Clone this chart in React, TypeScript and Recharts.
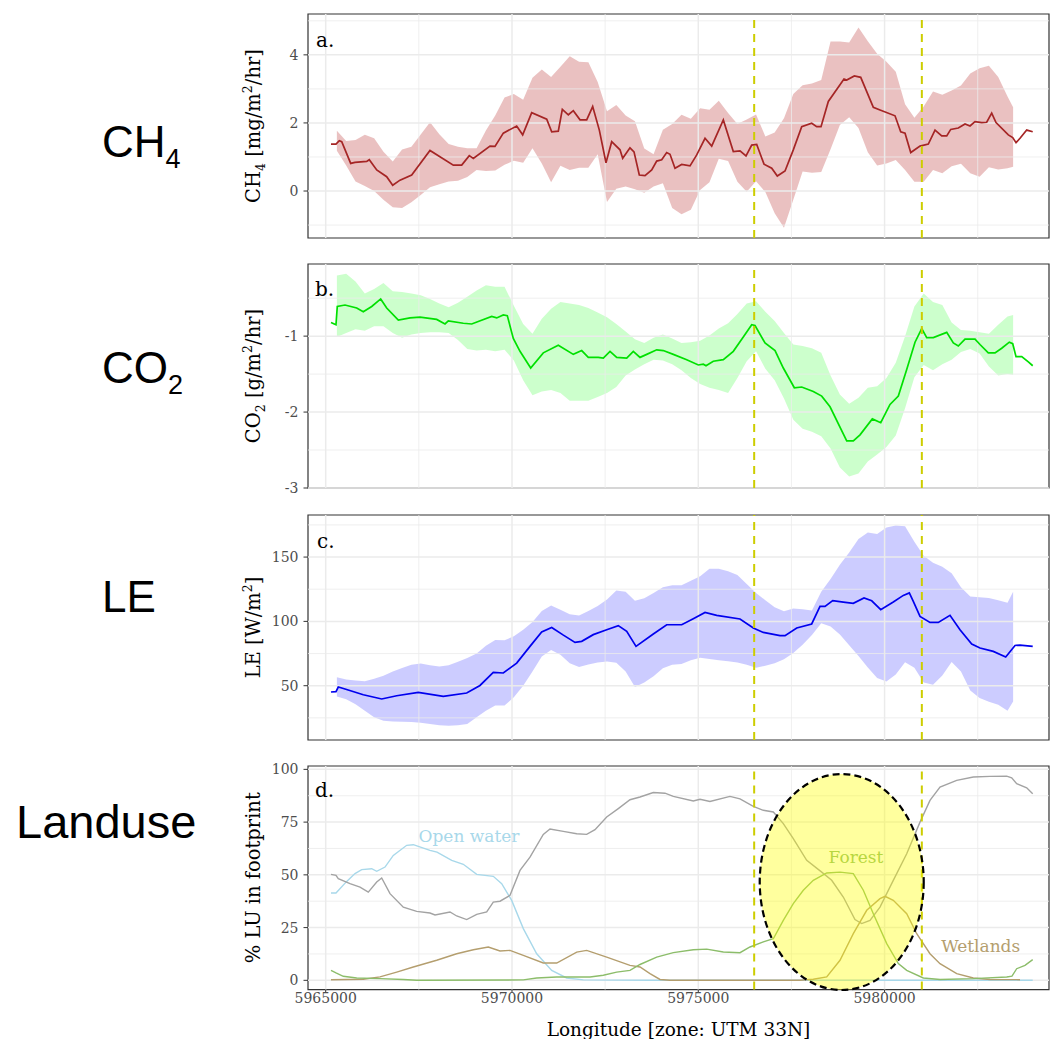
import { ComposedChart, XAxis, YAxis, Area, Line, ReferenceLine, ReferenceDot, ReferenceArea } from 'recharts';

const SERIF = '"DejaVu Serif", serif';
const SANS = '"Liberation Sans", Arial, sans-serif';

// shared longitude axis
const xDomain: [number, number] = [5964525, 5984413];
const xTicks = [5965000, 5970000, 5975000, 5980000];
const xMinor = [5967500, 5972500, 5977500, 5982500];
const cutLines = [5976500, 5981000];

// x positions of the uncertainty ribbons (same for all three flux panels)
const ribbonX = [
  5965300, 5965550, 5965800, 5966050, 5966300, 5966550, 5966800, 5967050, 5967300, 5967550,
  5967800, 5968050, 5968300, 5968550, 5968800, 5969050, 5969300, 5969550, 5969800, 5970050,
  5970300, 5970550, 5970800, 5971050, 5971300, 5971550, 5971800, 5972050, 5972300, 5972550,
  5972800, 5973050, 5973300, 5973550, 5973800, 5974050, 5974300, 5974550, 5974800, 5975050,
  5975300, 5975550, 5975800, 5976050, 5976300, 5976550, 5976800, 5977050, 5977300, 5977550,
  5977800, 5978050, 5978300, 5978550, 5978800, 5979050, 5979300, 5979550, 5979800, 5980050,
  5980300, 5980550, 5980800, 5981050, 5981300, 5981550, 5981800, 5982050, 5982300, 5982550,
  5982800, 5983050, 5983300, 5983450,
];

// a. CH4
const ch4X = [
  5965142, 5965276, 5965365, 5965430, 5965671, 5965786, 5966100, 5966170, 5966369, 5966637,
  5966798, 5966994, 5967308, 5967799, 5968425, 5968650, 5968854, 5968962, 5969410, 5969544,
  5969767, 5970126, 5970287, 5970529, 5970932, 5971066, 5971243, 5971351, 5971512, 5971646,
  5971826, 5972005, 5972166, 5972344, 5972523, 5972676, 5972899, 5972971, 5973167, 5973275,
  5973417, 5973570, 5973750, 5973884, 5974018, 5974152, 5974241, 5974375, 5974555, 5974778,
  5974958, 5975181, 5975360, 5975672, 5975940, 5976120, 5976281, 5976434, 5976568, 5976764,
  5976971, 5977121, 5977328, 5977550, 5977776, 5978044, 5978178, 5978294, 5978490, 5978911,
  5978984, 5979188, 5979360, 5979698, 5979878, 5980280, 5980433, 5980549, 5980702, 5980951,
  5981174, 5981354, 5981534, 5981668, 5981775, 5981979, 5982159, 5982293, 5982427, 5982607,
  5982741, 5982875, 5982991, 5983321, 5983439, 5983528, 5983635, 5983815, 5983976,
];
const ch4Mean = [
  1.38, 1.38, 1.48, 1.45, 0.81, 0.84, 0.87, 0.92, 0.62, 0.42,
  0.17, 0.32, 0.47, 1.19, 0.76, 0.76, 1.04, 0.96, 1.32, 1.31,
  1.70, 1.91, 1.65, 2.30, 2.11, 1.74, 1.76, 2.40, 2.24, 2.36,
  2.09, 2.09, 2.48, 1.79, 0.83, 1.45, 1.21, 0.96, 1.27, 1.15,
  0.47, 0.45, 0.62, 0.88, 0.92, 1.13, 1.08, 0.67, 0.78, 0.74,
  1.06, 1.55, 1.32, 2.09, 1.16, 1.18, 1.03, 1.35, 1.37, 0.79,
  0.67, 0.44, 0.59, 1.21, 1.89, 1.99, 1.89, 1.89, 2.63, 3.29,
  3.26, 3.38, 3.34, 2.46, 2.38, 2.21, 1.74, 1.70, 1.13, 1.32,
  1.38, 1.79, 1.62, 1.62, 1.81, 1.85, 1.97, 1.91, 2.04, 2.01,
  2.02, 2.29, 2.01, 1.65, 1.57, 1.42, 1.55, 1.79, 1.74,
];
const ch4Hi = [
  1.77, 1.47, 1.50, 1.65, 1.55, 1.15, 0.87, 1.22, 1.30, 1.66,
  2.02, 1.67, 1.38, 1.30, 1.26, 1.26, 1.78, 2.22, 2.75, 2.85,
  2.68, 3.33, 3.57, 3.35, 3.65, 3.96, 3.80, 3.78, 3.20, 2.34,
  2.53, 2.22, 2.05, 1.25, 1.08, 1.80, 1.97, 2.24, 2.12, 2.43,
  2.39, 2.65, 2.29, 1.97, 2.10, 2.25, 1.60, 1.72, 2.14, 2.85,
  3.11, 3.16, 3.26, 4.39, 4.39, 4.36, 4.80, 4.40, 4.03, 3.80,
  3.50, 2.55, 2.15, 2.48, 2.92, 2.83, 2.95, 3.10, 3.45, 3.61,
  3.68, 3.35, 2.78, 2.46,
];
const ch4Lo = [
  1.18, 0.75, 0.28, 0.15, 0.00, -0.26, -0.48, -0.50, -0.33, -0.12,
  0.11, 0.20, 0.28, 0.30, 0.41, 0.62, 0.59, 0.60, 0.77, 0.89,
  0.83, 1.26, 0.81, 0.26, 0.74, 0.62, 0.68, 0.68, 1.08, -0.32,
  0.07, 0.13, 0.05, -0.05, 0.13, 0.23, -0.50, -0.68, -0.55, 0.03,
  0.26, 0.95, 0.88, 0.27, -0.02, 0.29, -0.03, -0.65, -1.08, -0.26,
  0.57, 0.54, 0.56, 1.23, 1.94, 2.17, 1.85, 1.14, 0.75, 0.81,
  0.91, 0.62, 0.27, 0.27, 0.62, 0.52, 0.73, 0.80, 0.52, 0.42,
  0.70, 0.63, 0.67, 0.71,
];

// b. CO2
const co2X = [
  5965142, 5965276, 5965311, 5965518, 5965832, 5966009, 5966235, 5966476, 5966637, 5966949,
  5967263, 5967531, 5967979, 5968202, 5968291, 5968693, 5968919, 5969455, 5969590, 5969767,
  5969874, 5970035, 5970215, 5970502, 5970840, 5971243, 5971646, 5971871, 5972048, 5972317,
  5972451, 5972631, 5972810, 5973079, 5973256, 5973436, 5973616, 5973884, 5974061, 5974330,
  5974689, 5975001, 5975135, 5975207, 5975403, 5975672, 5975940, 5976208, 5976434, 5976523,
  5976791, 5977060, 5977282, 5977578, 5977776, 5978087, 5978313, 5978536, 5978984, 5979161,
  5979341, 5979671, 5979897, 5980146, 5980369, 5980594, 5980817, 5980997, 5981131, 5981308,
  5981668, 5981845, 5981979, 5982159, 5982427, 5982561, 5982784, 5982964, 5983144, 5983348,
  5983439, 5983528, 5983681, 5983858, 5983976,
];
const co2Mean = [
  -0.82, -0.85, -0.61, -0.59, -0.63, -0.68, -0.61, -0.51, -0.63, -0.79,
  -0.76, -0.75, -0.78, -0.84, -0.80, -0.83, -0.84, -0.74, -0.76, -0.72,
  -0.73, -1.03, -1.20, -1.42, -1.22, -1.12, -1.24, -1.19, -1.28, -1.28,
  -1.29, -1.20, -1.28, -1.29, -1.20, -1.28, -1.24, -1.18, -1.19, -1.24,
  -1.31, -1.38, -1.37, -1.39, -1.33, -1.31, -1.20, -1.01, -0.85, -0.86,
  -1.09, -1.19, -1.42, -1.68, -1.67, -1.73, -1.79, -1.93, -2.38, -2.38,
  -2.30, -2.09, -2.14, -1.90, -1.79, -1.44, -1.08, -0.90, -1.02, -1.02,
  -0.95, -1.09, -1.13, -1.04, -1.04, -1.11, -1.22, -1.22, -1.16, -1.08,
  -1.10, -1.27, -1.27, -1.34, -1.39,
];
const co2Hi = [
  -0.20, -0.18, -0.28, -0.44, -0.38, -0.30, -0.41, -0.42, -0.44, -0.46,
  -0.51, -0.57, -0.62, -0.56, -0.48, -0.40, -0.33, -0.35, -0.35, -0.60,
  -0.84, -0.97, -0.77, -0.64, -0.55, -0.57, -0.59, -0.63, -0.69, -0.75,
  -0.84, -0.94, -1.04, -1.09, -1.02, -0.98, -1.03, -1.09, -1.08, -1.06,
  -0.99, -0.90, -0.83, -0.71, -0.57, -0.54, -0.68, -0.80, -0.96, -1.11,
  -1.13, -1.16, -1.22, -1.52, -1.77, -1.89, -1.81, -1.68, -1.66, -1.55,
  -1.35, -1.00, -0.61, -0.44, -0.55, -0.59, -0.82, -0.92, -0.93, -0.95,
  -0.97, -0.85, -0.74, -0.72,
];
const co2Lo = [
  -1.01, -0.96, -0.91, -0.93, -0.87, -0.87, -0.96, -1.02, -0.98, -0.96,
  -0.95, -0.95, -0.96, -1.05, -1.17, -1.19, -1.18, -1.20, -1.18, -1.32,
  -1.58, -1.78, -1.73, -1.71, -1.75, -1.85, -1.85, -1.85, -1.80, -1.75,
  -1.67, -1.52, -1.44, -1.37, -1.31, -1.32, -1.37, -1.45, -1.55, -1.63,
  -1.68, -1.71, -1.75, -1.55, -1.33, -1.20, -1.43, -1.58, -1.82, -2.10,
  -2.22, -2.26, -2.32, -2.48, -2.73, -2.85, -2.81, -2.65, -2.56, -2.46,
  -2.31, -1.95, -1.54, -1.38, -1.45, -1.37, -1.31, -1.21, -1.17, -1.23,
  -1.40, -1.52, -1.50, -1.51,
];

// c. LE
const leX = [
  5965142, 5965276, 5965338, 5965518, 5966009, 5966503, 5966906, 5967485, 5968156, 5968784,
  5969141, 5969498, 5969767, 5970126, 5970483, 5970797, 5971066, 5971369, 5971691, 5971871,
  5972182, 5972542, 5972853, 5973079, 5973329, 5973793, 5974152, 5974555, 5974866, 5975181,
  5975494, 5976120, 5976477, 5976745, 5977193, 5977328, 5977642, 5978044, 5978267, 5978401,
  5978608, 5978893, 5979161, 5979448, 5979655, 5979897, 5980234, 5980503, 5980664, 5980771,
  5980951, 5981219, 5981442, 5981756, 5982024, 5982339, 5982561, 5982918, 5983251, 5983501,
  5983635, 5983976,
];
const leMean = [
  45.1, 45.4, 49.0, 47.4, 43.0, 39.7, 42.2, 44.8, 41.7, 44.3,
  50.2, 60.3, 59.9, 67.6, 80.6, 91.8, 95.3, 89.5, 83.7, 84.5,
  89.7, 93.5, 96.7, 92.2, 80.6, 90.2, 97.4, 97.4, 102.1, 107.0,
  104.7, 101.9, 94.9, 91.4, 88.9, 88.9, 94.9, 98.0, 111.7, 111.7,
  116.1, 115.0, 114.0, 118.2, 116.0, 109.1, 115.1, 120.2, 122.1, 115.6,
  103.9, 99.2, 99.2, 104.7, 93.5, 82.4, 79.3, 76.7, 72.3, 81.3,
  81.6, 80.6,
];
const leHi = [
  56.5, 54.8, 54.0, 53.4, 55.5, 57.8, 61.0, 63.8, 66.2, 67.3,
  66.0, 65.0, 66.0, 68.6, 71.5, 75.0, 81.0, 85.6, 85.3, 88.5,
  93.5, 99.5, 108.0, 112.3, 109.0, 105.5, 104.6, 108.0, 112.0, 117.0,
  124.0, 123.0, 116.0, 118.0, 122.0, 126.5, 128.0, 128.0, 131.5, 135.0,
  141.0, 141.0, 139.0, 136.0, 129.0, 122.0, 116.5, 111.0, 107.8, 110.0,
  109.5, 108.5, 123.0, 133.0, 144.0, 153.5, 164.0, 169.0, 168.0, 173.0,
  174.5, 174.0, 162.0, 151.0, 145.5, 142.5, 137.5, 126.5, 119.4, 118.8,
  118.2, 116.5, 114.5, 123.0,
];
const leLo = [
  41.7, 39.5, 35.6, 30.5, 25.5, 22.8, 22.2, 22.0, 21.8, 21.2,
  20.2, 19.2, 18.8, 19.3, 20.3, 25.5, 30.5, 34.7, 34.7, 41.0,
  50.0, 61.0, 72.8, 77.8, 74.0, 67.5, 64.5, 66.5, 68.0, 68.8,
  67.8, 61.0, 49.0, 52.5, 57.3, 63.5, 66.2, 66.9, 69.8, 71.8,
  70.7, 69.7, 69.1, 68.0, 66.2, 64.0, 65.5, 67.4, 70.5, 75.5,
  81.8, 89.5, 98.5, 96.0, 89.8, 81.5, 73.0, 64.2, 56.0, 53.2,
  58.8, 68.2, 64.0, 52.5, 50.8, 58.0, 68.5, 61.0, 46.3, 40.5,
  37.5, 35.2, 30.5, 37.8,
];

// d. land use share in footprint
const waterX = [
  5965142, 5965276, 5965564, 5965786, 5965966, 5966235, 5966369, 5966592, 5966814, 5967174,
  5967351, 5967799, 5967987, 5968382, 5968693, 5969053, 5969498, 5969724, 5969992, 5970304,
  5970663, 5971066, 5971468, 5971914, 5973704, 5977730, 5983976,
];
const waterPct = [
  41.4, 41.4, 46.9, 50.6, 52.5, 52.9, 51.7, 53.7, 59.2, 64.0,
  64.3, 61.6, 60.8, 56.9, 55.0, 50.2, 49.3, 45.8, 37.9, 24.5,
  12.6, 4.7, 1.1, 0.2, 0.0, 0.0, 0.0,
];
const otherX = [
  5965142, 5965276, 5965338, 5965652, 5965921, 5966143, 5966369, 5966503, 5966726, 5967083,
  5967442, 5967799, 5967934, 5968336, 5968516, 5968784, 5969053, 5969321, 5969498, 5969678,
  5969947, 5970215, 5970483, 5970840, 5971020, 5971377, 5971737, 5972005, 5972228, 5972542,
  5972853, 5973167, 5973436, 5973793, 5974107, 5974330, 5974866, 5975046, 5975314, 5975851,
  5976120, 5976477, 5976745, 5977014, 5977282, 5977550, 5977910, 5978313, 5978581, 5978892,
  5979206, 5979386, 5979609, 5979877, 5980234, 5980594, 5980951, 5981219, 5981488, 5981936,
  5982382, 5982830, 5983278, 5983412, 5983546, 5983815, 5983976,
];
const otherPct = [
  50.2, 49.8, 48.2, 45.8, 44.2, 41.8, 46.6, 48.5, 41.1, 34.7,
  32.7, 31.9, 31.0, 32.4, 30.5, 28.8, 31.3, 32.4, 37.1, 37.5,
  40.3, 52.1, 58.4, 69.2, 71.7, 70.6, 69.5, 69.2, 71.4, 77.4,
  81.4, 85.6, 86.9, 89.0, 88.7, 87.2, 85.0, 85.8, 84.8, 87.2,
  86.0, 82.5, 80.6, 79.8, 74.3, 67.2, 56.9, 51.3, 47.4, 39.5,
  28.8, 26.9, 28.4, 34.7, 47.4, 60.0, 75.0, 85.3, 91.6, 94.8,
  96.4, 96.7, 96.8, 96.0, 93.2, 91.3, 88.5,
];
const wetX = [
  5965142, 5966009, 5966457, 5966906, 5967351, 5967979, 5968516, 5968962, 5969364, 5969678,
  5969947, 5970304, 5970840, 5971200, 5971737, 5972005, 5972542, 5973167, 5973436, 5973704,
  5973973, 5974241, 5977730, 5978087, 5978447, 5978804, 5979161, 5979521, 5979877, 5980012,
  5980234, 5980594, 5980863, 5981219, 5981488, 5981936, 5982382, 5982830, 5983635,
];
const wetPct = [
  0.3, 0.5, 1.6, 3.9, 6.3, 9.5, 12.6, 14.5, 15.8, 13.9,
  14.2, 11.8, 8.2, 8.2, 13.4, 14.2, 11.0, 7.1, 6.3, 3.2,
  0.4, 0.0, 0.0, 0.5, 1.6, 9.5, 22.1, 33.2, 38.7, 39.8,
  37.9, 31.6, 22.1, 12.6, 7.9, 3.2, 1.1, 0.4, 0.3,
];
const forestX = [
  5965142, 5965276, 5965472, 5965832, 5966457, 5967083, 5967442, 5970304, 5970663, 5971200,
  5972094, 5972451, 5972810, 5973167, 5973436, 5973884, 5974330, 5974866, 5975226, 5975672,
  5976120, 5976388, 5976745, 5977014, 5977282, 5977550, 5977819, 5978087, 5978447, 5978804,
  5979161, 5979430, 5979698, 5980058, 5980369, 5980594, 5981040, 5981488, 5982382, 5983278,
  5983420, 5983546, 5983769, 5983976,
];
const forestPct = [
  4.7, 3.5, 1.9, 1.1, 0.8, 0.4, 0.0, 0.2, 1.1, 1.6,
  1.6, 2.4, 3.9, 4.7, 7.5, 11.0, 13.1, 14.5, 14.8, 13.4,
  13.1, 15.8, 18.2, 19.7, 28.4, 36.4, 42.7, 47.4, 50.9, 51.3,
  50.6, 42.7, 31.6, 17.4, 7.9, 4.7, 1.1, 0.4, 0.8, 1.6,
  2.0, 5.5, 7.1, 9.8,
];

const toLine = (xs: number[], ys: number[]) => xs.map((x, i) => ({ x, y: ys[i] }));
const toBand = (lo: number[], hi: number[]) => ribbonX.map((x, i) => ({ x, band: [lo[i], hi[i]] }));

const GRID = '#ebebeb';
const INK = '#333333';
const TICK_TXT = '#4d4d4d';
const CUT = '#cdcd00';

function gridLines(yMajor: number[], yMinor: number[]) {
  return [
    ...xMinor.map((v) => <ReferenceLine key={'gxm' + v} x={v} stroke={GRID} strokeWidth={0.8} />),
    ...yMinor.map((v) => <ReferenceLine key={'gym' + v} y={v} stroke={GRID} strokeWidth={0.8} />),
    ...xTicks.map((v) => <ReferenceLine key={'gxM' + v} x={v} stroke={GRID} strokeWidth={1.5} />),
    ...yMajor.map((v) => <ReferenceLine key={'gyM' + v} y={v} stroke={GRID} strokeWidth={1.5} />),
  ];
}

function frame(yDomain: [number, number]) {
  return [
    ...cutLines.map((v) => (
      <ReferenceLine key={'cut' + v} x={v} stroke={CUT} strokeWidth={2} strokeDasharray="8 6" />
    )),
    <ReferenceArea
      key="border"
      x1={xDomain[0]}
      x2={xDomain[1]}
      y1={yDomain[0]}
      y2={yDomain[1]}
      fill="none"
      stroke={INK}
      strokeWidth={1.2}
      ifOverflow="visible"
    />,
  ];
}

// rotated y title with sub/superscripts
function yTitle(parts: { t: string; s?: 'sub' | 'sup' }[]) {
  return (props: any) => {
    const vb = props.viewBox || { x: 258, y: 0, height: 200 };
    const cx = vb.x + 2;
    const cy = vb.y + vb.height / 2;
    let shift = 0;
    return (
      <text
        transform={`translate(${cx},${cy}) rotate(-90)`}
        textAnchor="middle"
        fontFamily={SERIF}
        fontSize={19.5}
        fill="#000"
      >
        {parts.map((p, i) => {
          const target = p.s === 'sub' ? 5 : p.s === 'sup' ? -8 : 0;
          const dy = target - shift;
          shift = target;
          return (
            <tspan key={i} dy={dy} fontSize={p.s ? 12.5 : 19.5}>
              {p.t}
            </tspan>
          );
        })}
      </text>
    );
  };
}

const yTick = { fill: TICK_TXT, fontSize: 14, fontFamily: SERIF };

function xAxisNoLabels() {
  return (
    <XAxis
      dataKey="x"
      type="number"
      domain={xDomain}
      allowDataOverflow
      ticks={xTicks}
      tick={false}
      tickSize={5}
      axisLine={false}
      tickLine={{ stroke: INK }}
      height={10}
    />
  );
}

function yAxis(domain: [number, number], ticks: number[], title: any) {
  return (
    <YAxis
      type="number"
      domain={domain}
      allowDataOverflow
      ticks={ticks}
      width={50}
      tickSize={4.5}
      tickMargin={5}
      axisLine={false}
      tickLine={{ stroke: INK }}
      tick={yTick}
      label={{ content: title }}
    />
  );
}

const MARGIN = { top: 14, right: 2, bottom: 0, left: 258 };
const W = 1051;

const ch4Dom: [number, number] = [-1.38, 5.2];
const co2Dom: [number, number] = [-3.0, -0.05];
const leDom: [number, number] = [7.8, 182.7];
const luDom: [number, number] = [-4.4, 101.6];

function textMark(label: string, color: string) {
  return (p: any) => (
    <text x={p.cx} y={p.cy} textAnchor="middle" fontFamily={SERIF} fontSize={17} fill={color}>
      {label}
    </text>
  );
}

export default function App() {
  return (
    <div style={{ position: 'absolute', left: 0, top: 0, width: 1051, height: 1043, overflow: 'hidden', background: '#fff' }}>
      {/* a. CH4 */}
      <div style={{ position: 'absolute', left: 0, top: 0 }}>
        <ComposedChart width={W} height={14 + 224 + 10} margin={MARGIN}>
          {xAxisNoLabels()}
          {yAxis(ch4Dom, [0, 2, 4], yTitle([{ t: 'CH' }, { t: '4', s: 'sub' }, { t: ' [mg/m' }, { t: '2', s: 'sup' }, { t: '/hr]' }]))}
          {gridLines([0, 2, 4], [-1, 1, 3, 5])}
          <Area data={toBand(ch4Lo, ch4Hi)} dataKey="band" type="linear" stroke="none" fill="#b22222" fillOpacity={0.28} isAnimationActive={false} />
          <Line data={toLine(ch4X, ch4Mean)} dataKey="y" type="linear" stroke="#a52525" strokeWidth={1.7} dot={false} activeDot={false} isAnimationActive={false} />
          {frame(ch4Dom)}
        </ComposedChart>
      </div>

      {/* b. CO2 */}
      <div style={{ position: 'absolute', left: 0, top: 250.3 }}>
        <ComposedChart width={W} height={14 + 224 + 10} margin={MARGIN}>
          {xAxisNoLabels()}
          {yAxis(co2Dom, [-3, -2, -1], yTitle([{ t: 'CO' }, { t: '2', s: 'sub' }, { t: ' [g/m' }, { t: '2', s: 'sup' }, { t: '/hr]' }]))}
          {gridLines([-3, -2, -1], [-2.5, -1.5, -0.5])}
          <Area data={toBand(co2Lo, co2Hi)} dataKey="band" type="linear" stroke="none" fill="#00ff00" fillOpacity={0.2} isAnimationActive={false} />
          <Line data={toLine(co2X, co2Mean)} dataKey="y" type="linear" stroke="#00e000" strokeWidth={1.7} dot={false} activeDot={false} isAnimationActive={false} />
          {frame(co2Dom)}
        </ComposedChart>
      </div>

      {/* c. LE */}
      <div style={{ position: 'absolute', left: 0, top: 501 }}>
        <ComposedChart width={W} height={14 + 225 + 10} margin={MARGIN}>
          {xAxisNoLabels()}
          {yAxis(leDom, [50, 100, 150], yTitle([{ t: 'LE [W/m' }, { t: '2', s: 'sup' }, { t: ']' }]))}
          {gridLines([50, 100, 150], [25, 75, 125, 175])}
          <Area data={toBand(leLo, leHi)} dataKey="band" type="linear" stroke="none" fill="#0000ff" fillOpacity={0.2} isAnimationActive={false} />
          <Line data={toLine(leX, leMean)} dataKey="y" type="linear" stroke="#0000ee" strokeWidth={1.7} dot={false} activeDot={false} isAnimationActive={false} />
          {frame(leDom)}
        </ComposedChart>
      </div>

      {/* d. Landuse */}
      <div style={{ position: 'absolute', left: 0, top: 751.7 }}>
        <ComposedChart width={W} height={14 + 223.6 + 50} margin={MARGIN}>
          <XAxis
            dataKey="x"
            type="number"
            domain={xDomain}
            allowDataOverflow
            ticks={xTicks}
            tickSize={3}
            tickMargin={0}
            axisLine={false}
            tickLine={{ stroke: INK }}
            tick={{ fill: TICK_TXT, fontSize: 14, fontFamily: SERIF }}
            height={50}
            label={{
              content: (p: any) => {
                const vb = p.viewBox || { x: 308, y: 989, width: 741 };
                return (
                  <text x={vb.x + vb.width / 2} y={vb.y + 46} textAnchor="middle" fontFamily={SERIF} fontSize={18.5} fill="#000">
                    Longitude [zone: UTM 33N]
                  </text>
                );
              },
            }}
          />
          {yAxis(luDom, [0, 25, 50, 75, 100], yTitle([{ t: '% LU in footprint' }]))}
          {gridLines([0, 25, 50, 75, 100], [12.5, 37.5, 62.5, 87.5])}
          <Line data={toLine(waterX, waterPct)} dataKey="y" type="linear" stroke="#a8d8ea" strokeWidth={1.4} dot={false} activeDot={false} isAnimationActive={false} />
          <Line data={toLine(otherX, otherPct)} dataKey="y" type="linear" stroke="#a3a3a3" strokeWidth={1.4} dot={false} activeDot={false} isAnimationActive={false} />
          <Line data={toLine(wetX, wetPct)} dataKey="y" type="linear" stroke="#b49e6e" strokeWidth={1.4} dot={false} activeDot={false} isAnimationActive={false} />
          <Line data={toLine(forestX, forestPct)} dataKey="y" type="linear" stroke="#8cbd6a" strokeWidth={1.4} dot={false} activeDot={false} isAnimationActive={false} />
          <ReferenceDot x={5968846} y={65.5} r={0} ifOverflow="visible" shape={textMark('Open water', '#a8d8ea')} />
          <ReferenceDot x={5979233} y={55.5} r={0} ifOverflow="visible" shape={textMark('Forest', '#8cbd6a')} />
          <ReferenceDot x={5982580} y={13.4} r={0} ifOverflow="visible" shape={textMark('Wetlands', '#b49e6e')} />
          {frame(luDom)}
          <ReferenceDot
            x={5978850}
            y={46.6}
            r={1}
            ifOverflow="visible"
            shape={(p: any) => (
              <ellipse cx={p.cx} cy={p.cy} rx={82} ry={108} fill="#ffff00" fillOpacity={0.38} stroke="#000" strokeWidth={2.2} strokeDasharray="7 4" />
            )}
          />
        </ComposedChart>
      </div>

      {/* panel letters and row labels */}
      <svg width={1051} height={1043} style={{ position: 'absolute', left: 0, top: 0, pointerEvents: 'none' }}>
        <g fontFamily={SERIF} fontSize={20} fill="#000">
          <text x={316} y={47}>a.</text>
          <text x={315} y={296}>b.</text>
          <text x={317} y={548}>c.</text>
          <text x={315} y={797}>d.</text>
        </g>
        <g fontFamily={SANS} fill="#000">
          <text x={102} y={157} fontSize={44}>
            CH<tspan fontSize={27} dy={11}>4</tspan>
          </text>
          <text x={102} y={383} fontSize={44}>
            CO<tspan fontSize={27} dy={11}>2</tspan>
          </text>
          <text x={102} y={612} fontSize={44}>LE</text>
          <text x={16} y={838} fontSize={47}>Landuse</text>
        </g>
      </svg>
    </div>
  );
}
